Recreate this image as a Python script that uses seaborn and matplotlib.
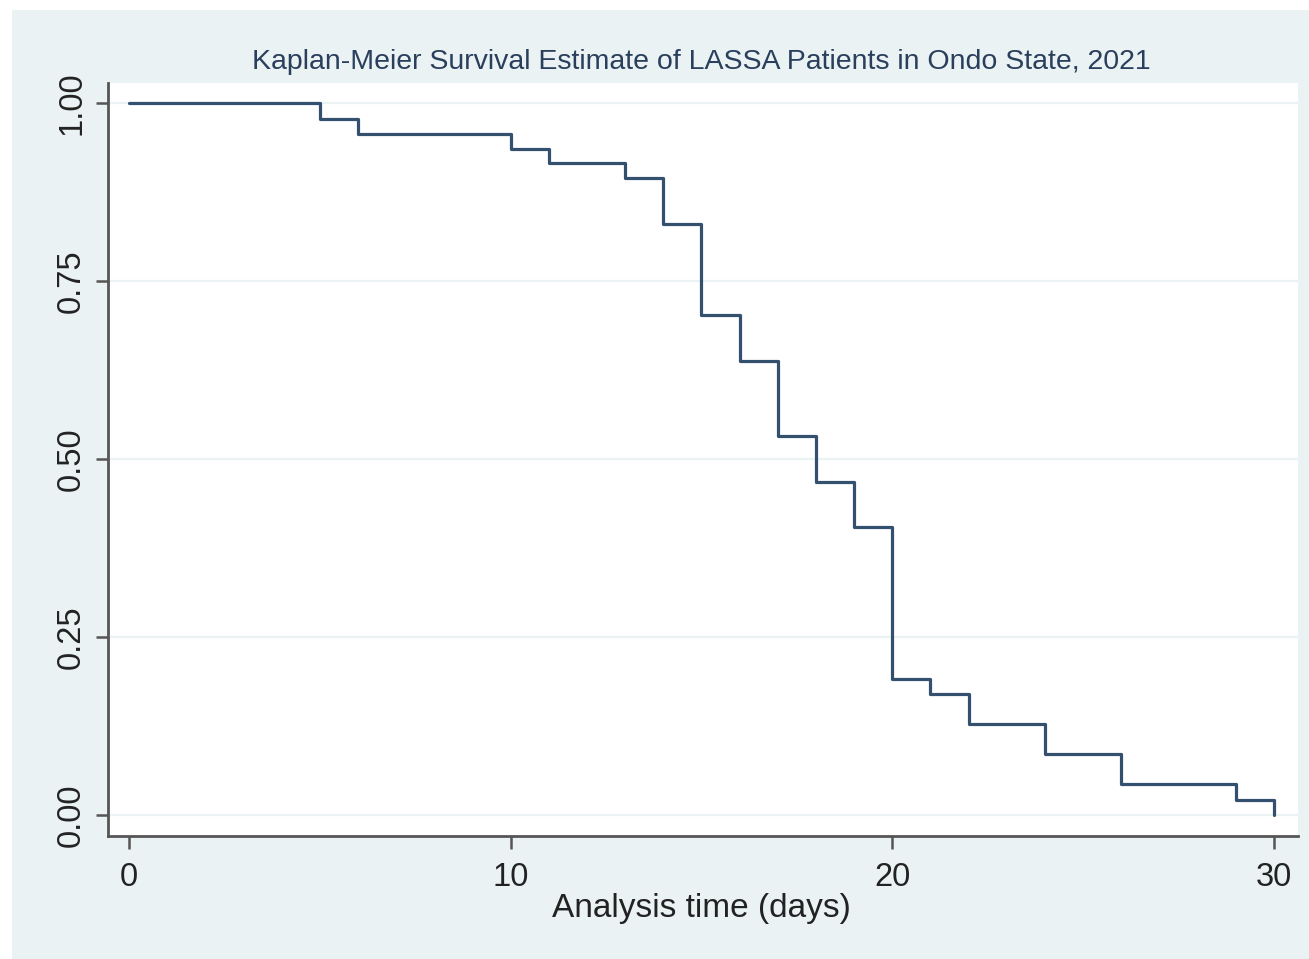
import matplotlib
matplotlib.use("Agg")
import matplotlib.pyplot as plt
import matplotlib.patches as mpatches
import seaborn as sns
import pandas as pd

# Kaplan-Meier estimate (step values)
days = [0, 5, 6, 10, 11, 13, 14, 15, 16, 17, 18, 19, 20, 21, 22, 24, 26, 29, 30]
survival = [1.000, 0.978, 0.957, 0.936, 0.915, 0.894, 0.830, 0.702, 0.638,
            0.532, 0.468, 0.404, 0.191, 0.170, 0.128, 0.085, 0.043, 0.021, 0.000]
x_ticks = [0, 10, 20, 30]
y_ticks = [0.00, 0.25, 0.50, 0.75, 1.00]
y_labels = ["0.00", "0.25", "0.50", "0.75", "1.00"]

title = "Kaplan-Meier Survival Estimate of LASSA Patients in Ondo State, 2021"
x_label = "Analysis time (days)"

outer_bg = "#EAF2F3"
line_col = "#34506F"
grid_col = "#EAF2F3"

sns.set_style("white")
plt.rcParams["font.family"] = ["Liberation Sans", "DejaVu Sans"]

W, H = 1309, 959
fig = plt.figure(figsize=(W / 100, H / 100), dpi=100, facecolor=outer_bg)

# white strip on left and top like the cropped screenshot
fig.patches.append(mpatches.Rectangle((0, 0), 12 / W, 1, transform=fig.transFigure,
                                      facecolor="white", edgecolor="none", zorder=-1))
fig.patches.append(mpatches.Rectangle((0, 1 - 10 / H), 1, 10 / H, transform=fig.transFigure,
                                      facecolor="white", edgecolor="none", zorder=-1))

# plot region in pixels: left 108, right 1298, top 83, bottom 836
ax = fig.add_axes([108 / W, 1 - 836 / H, (1298 - 108) / W, (836 - 83) / H])
ax.set_facecolor("white")

df = pd.DataFrame({"days": days, "survival": survival})
sns.lineplot(data=df, x="days", y="survival", ax=ax, drawstyle="steps-post",
             color=line_col, linewidth=2.3, estimator=None, sort=False, zorder=3)

ax.set_xlim(-0.55, 30.63)
ax.set_ylim(-0.0295, 1.028)

ax.set_xticks(x_ticks)
ax.set_xticklabels([str(t) for t in x_ticks], fontsize=23.5)
ax.set_yticks(y_ticks)
ax.set_yticklabels(y_labels, fontsize=23.5, rotation=90, va="center")

for yv in y_ticks:
    ax.axhline(yv, color=grid_col, linewidth=1.6, zorder=1)

for side in ["top", "right"]:
    ax.spines[side].set_visible(False)
for side in ["left", "bottom"]:
    ax.spines[side].set_color("#555555")
    ax.spines[side].set_linewidth(2.0)

ax.tick_params(axis="both", direction="out", length=9, width=1.8, color="#555555",
               labelcolor="#222222", bottom=True, left=True)
ax.tick_params(axis="x", pad=10)
ax.tick_params(axis="y", pad=6)

ax.set_xlabel("")
ax.set_ylabel("")

fig.text(701 / W, 1 - 62 / H, title, ha="center", va="center", fontsize=20.5,
         color="#2A3F5C")
fig.text(701 / W, 1 - 909 / H, x_label, ha="center", va="center", fontsize=24,
         color="#222222")

fig.savefig("out.png", dpi=100, facecolor=fig.get_facecolor())
